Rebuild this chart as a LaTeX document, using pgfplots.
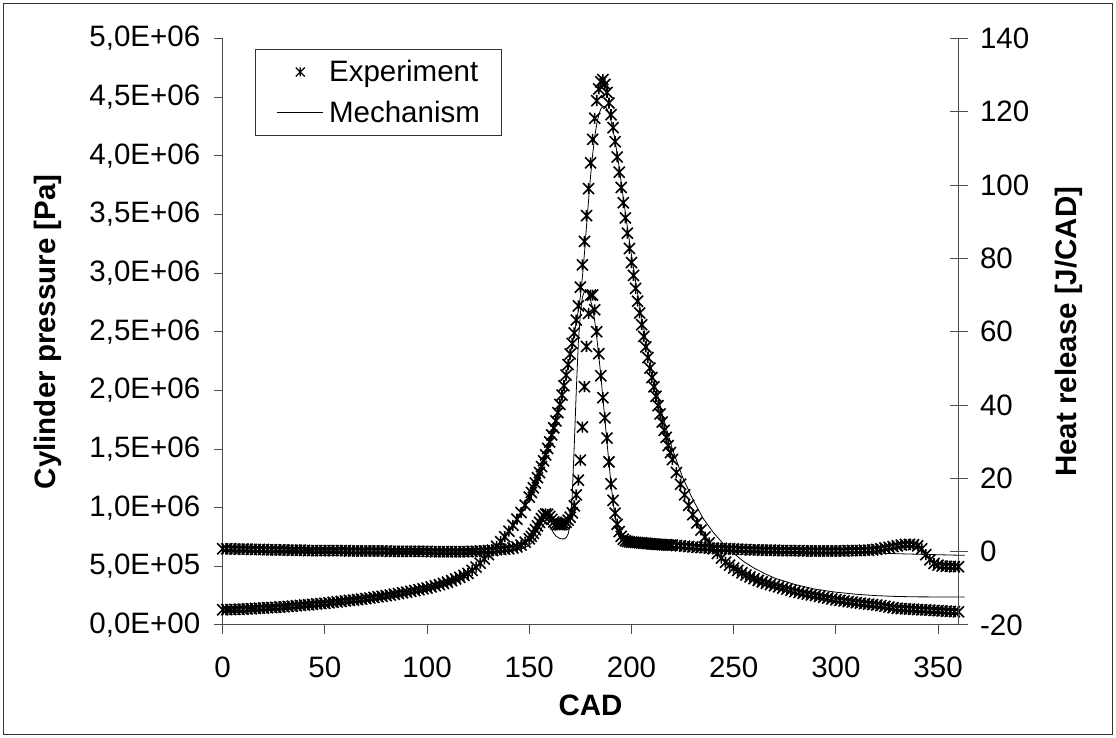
\documentclass[border=0pt]{standalone}
\usepackage{fontspec}
\setmainfont{Liberation Sans}
\usepackage{pgfplots}
\pgfplotsset{compat=1.18}
\usepackage{pgfplotstable}

\pgfdeclareplotmark{xstar}{%
  \pgfpathmoveto{\pgfqpoint{-\pgfplotmarksize}{-\pgfplotmarksize}}%
  \pgfpathlineto{\pgfqpoint{\pgfplotmarksize}{\pgfplotmarksize}}%
  \pgfpathmoveto{\pgfqpoint{-\pgfplotmarksize}{\pgfplotmarksize}}%
  \pgfpathlineto{\pgfqpoint{\pgfplotmarksize}{-\pgfplotmarksize}}%
  \pgfpathmoveto{\pgfqpoint{0pt}{-\pgfplotmarksize}}%
  \pgfpathlineto{\pgfqpoint{0pt}{\pgfplotmarksize}}%
  \pgfusepathqstroke}

\pgfplotsset{
  starleg/.style={legend image code/.code={\draw[##1, mark size=4.5bp, line width=1.2bp] plot coordinates {(25bp,0bp)};\path (0bp,0bp) (50bp,0bp);}},
  lineleg/.style={legend image code/.code={\draw[##1] (2bp,0bp) -- (48bp,0bp);\path (0bp,0bp) (50bp,0bp);}},
  expmarks/.style={only marks, mark=xstar, mark size=5.5bp, black, line width=1.6bp},
}

\newcommand\tf{\fontsize{29.5bp}{34bp}\selectfont}
\newcommand\lf{\bfseries\fontsize{29.5bp}{34bp}\selectfont}

% experiment: crank angle, cylinder pressure [Pa], heat release [J/CAD]
\pgfplotstableread{
cad p hr
0 0.130e6 0.8
2 0.131e6 0.8
4 0.132e6 0.8
6 0.133e6 0.7
8 0.134e6 0.7
10 0.135e6 0.7
12 0.137e6 0.7
14 0.139e6 0.6
16 0.141e6 0.6
18 0.143e6 0.6
20 0.145e6 0.6
22 0.147e6 0.5
24 0.149e6 0.5
26 0.151e6 0.5
28 0.153e6 0.5
30 0.155e6 0.5
32 0.158e6 0.4
34 0.161e6 0.4
36 0.164e6 0.4
38 0.167e6 0.4
40 0.170e6 0.4
42 0.173e6 0.3
44 0.176e6 0.3
46 0.179e6 0.3
48 0.182e6 0.3
50 0.185e6 0.3
52 0.189e6 0.3
54 0.193e6 0.3
56 0.197e6 0.3
58 0.201e6 0.3
60 0.205e6 0.3
62 0.209e6 0.2
64 0.213e6 0.2
66 0.217e6 0.2
68 0.221e6 0.2
70 0.225e6 0.2
72 0.230e6 0.2
74 0.235e6 0.2
76 0.240e6 0.2
78 0.245e6 0.2
80 0.250e6 0.2
82 0.256e6 0.1
84 0.262e6 0.1
86 0.268e6 0.1
88 0.274e6 0.1
90 0.280e6 0.1
92 0.287e6 0.1
94 0.294e6 0.1
96 0.301e6 0.1
98 0.308e6 0.1
100 0.315e6 0.1
102 0.324e6 0.0
104 0.334e6 0.0
106 0.344e6 0.0
108 0.354e6 0.0
110 0.365e6 0.0
112 0.378e6 0.0
114 0.392e6 0.0
116 0.406e6 0.0
118 0.422e6 0.0
120 0.440e6 0.0
122 0.466e6 0.1
124 0.494e6 0.1
126 0.527e6 0.2
128 0.563e6 0.2
130 0.600e6 0.3
132 0.635e6 0.4
134 0.671e6 0.5
136 0.710e6 0.6
138 0.753e6 0.7
140 0.800e6 0.8
142 0.850e6 1.0
144 0.902e6 1.3
146 0.958e6 1.8
148 1.022e6 2.6
150 1.090e6 3.5
151 1.130e6 4.2
152 1.170e6 5.0
153 1.210e6 6.0
154 1.255e6 7.0
155 1.300e6 8.0
156 1.350e6 9.0
157 1.400e6 9.8
158 1.450e6 10.3
159 1.505e6 10.2
160 1.560e6 9.6
161 1.620e6 8.8
162 1.680e6 8.1
163 1.740e6 7.6
164 1.810e6 7.4
165 1.880e6 7.3
166 1.960e6 7.4
167 2.040e6 7.6
168 2.130e6 8.0
169 2.220e6 8.6
170 2.310e6 9.4
171 2.400e6 10.6
172 2.490e6 12.5
173 2.600e6 15.5
174 2.720e6 19.5
175 2.880e6 25
176 3.070e6 34
177 3.270e6 45
178 3.490e6 56
179 3.720e6 65
180 3.940e6 70
181 4.140e6 70
182 4.320e6 66
183 4.470e6 60
184 4.570e6 54
185 4.630e6 48
186 4.650e6 42
187 4.610e6 36.5
188 4.540e6 31
189 4.450e6 24.5
190 4.350e6 18.5
191 4.240e6 14
192 4.120e6 10.5
193 3.990e6 7.5
194 3.860e6 5.5
195 3.730e6 4.2
196 3.600e6 3.4
197 3.470e6 3.0
198 3.340e6 2.8
199 3.210e6 2.7
200 3.090e6 2.6
201 2.980e6 2.6
202 2.870e6 2.5
203 2.760e6 2.5
204 2.660e6 2.4
205 2.560e6 2.4
206 2.460e6 2.3
207 2.370e6 2.3
208 2.280e6 2.2
209 2.190e6 2.2
210 2.110e6 2.1
211 2.030e6 2.1
212 1.950e6 2.0
213 1.870e6 2.0
214 1.800e6 2.0
215 1.730e6 1.9
216 1.660e6 1.9
217 1.600e6 1.9
218 1.530e6 1.8
219 1.470e6 1.8
220 1.410e6 1.8
222 1.300e6 1.7
224 1.200e6 1.6
226 1.110e6 1.5
228 1.020e6 1.4
230 0.940e6 1.3
232 0.870e6 1.2
234 0.810e6 1.1
236 0.750e6 1.1
238 0.700e6 1.0
240 0.650e6 1.0
242 0.610e6 0.9
244 0.570e6 0.9
246 0.535e6 0.8
248 0.510e6 0.8
250 0.485e6 0.7
252 0.465e6 0.7
254 0.445e6 0.6
256 0.425e6 0.6
258 0.410e6 0.5
260 0.395e6 0.5
262 0.380e6 0.5
264 0.368e6 0.4
266 0.356e6 0.4
268 0.345e6 0.4
270 0.335e6 0.4
272 0.325e6 0.3
274 0.315e6 0.3
276 0.305e6 0.3
278 0.295e6 0.3
280 0.285e6 0.3
282 0.278e6 0.3
284 0.270e6 0.2
286 0.263e6 0.2
288 0.256e6 0.2
290 0.250e6 0.2
292 0.243e6 0.2
294 0.236e6 0.2
296 0.229e6 0.2
298 0.222e6 0.2
300 0.215e6 0.2
302 0.210e6 0.2
304 0.205e6 0.2
306 0.200e6 0.3
308 0.195e6 0.3
310 0.190e6 0.3
312 0.186e6 0.3
314 0.182e6 0.4
316 0.178e6 0.4
318 0.174e6 0.5
320 0.170e6 0.6
322 0.165e6 0.8
324 0.159e6 1.0
326 0.153e6 1.2
328 0.147e6 1.4
330 0.142e6 1.6
332 0.140e6 1.8
334 0.138e6 2.0
336 0.136e6 2.0
338 0.134e6 1.9
340 0.132e6 1.6
342 0.130e6 0.8
344 0.128e6 -0.8
346 0.126e6 -2.2
348 0.124e6 -3.2
350 0.122e6 -3.7
352 0.120e6 -3.9
354 0.118e6 -4.0
356 0.116e6 -4.0
358 0.114e6 -4.1
360 0.112e6 -4.1
}\expdata

% mechanism: cylinder pressure [Pa]
\pgfplotstableread{
cad p
0 0.130e6
20 0.145e6
40 0.170e6
60 0.205e6
80 0.250e6
100 0.315e6
110 0.365e6
120 0.440e6
125 0.510e6
130 0.600e6
135 0.690e6
140 0.800e6
145 0.930e6
150 1.090e6
155 1.300e6
160 1.560e6
165 1.880e6
168 2.120e6
170 2.300e6
172 2.480e6
174 2.680e6
175 2.800e6
176 2.970e6
177 3.170e6
178 3.400e6
179 3.620e6
180 3.830e6
181 4.010e6
182 4.160e6
183 4.270e6
184 4.350e6
185 4.400e6
186 4.420e6
187 4.420e6
188 4.400e6
189 4.360e6
190 4.300e6
192 4.130e6
194 3.900e6
196 3.640e6
198 3.390e6
200 3.150e6
202 2.930e6
205 2.620e6
210 2.170e6
215 1.800e6
220 1.500e6
225 1.260e6
230 1.070e6
235 0.910e6
240 0.790e6
245 0.690e6
250 0.610e6
255 0.540e6
260 0.485e6
265 0.440e6
270 0.400e6
280 0.345e6
290 0.305e6
300 0.280e6
310 0.262e6
320 0.250e6
330 0.243e6
340 0.240e6
363 0.238e6
}\mechp

% mechanism: heat release [J/CAD]
\pgfplotstableread{
cad hr
0 0.5
20 0.4
40 0.3
60 0.2
80 0.1
100 0.0
120 0.0
140 0.2
145 0.6
148 1.2
150 1.8
152 2.8
154 4.3
155 5.3
156 6.4
157 7.4
158 8.0
159 7.8
160 7.0
161 6.0
162 5.0
163 4.3
164 3.9
165 3.6
166 3.5
167 3.5
168 3.8
169 4.8
170 7.5
171 15
172 29
173 44
174 57
175 65
176 69.5
177 71
178 71
179 70
180 68.5
181 66.5
182 63
183 58.5
184 53.5
185 48
186 42
187 36
188 30
189 24
190 18.5
191 13.5
192 9.5
193 6.5
194 4.5
195 3.3
196 2.7
198 2.3
200 2.1
210 1.7
220 1.3
230 0.9
240 0.6
250 0.4
260 0.2
280 0.0
300 -0.2
320 -0.4
340 -0.7
363 -1.0
}\mechhr

\begin{document}
\begin{tikzpicture}
\path (0,0) rectangle (1116bp,738bp);
\draw[line width=1.5bp, black!80] (3.5bp,3.5bp) rectangle (1112.5bp,734.5bp);

\begin{axis}[
  at={(222.7bp,113bp)}, anchor=south west, scale only axis,
  width=735.8bp, height=586.5bp,
  xmin=0, xmax=360, ymin=0, ymax=5e6,
  clip=false,
  axis x line*=bottom, axis y line*=left,
  axis line style={black!70, line width=1bp},
  tick style={black!70, line width=1bp},
  tick align=outside, major tick length=9bp,
  xtick={0,50,100,150,200,250,300,350},
  ytick={0,500000,1000000,1500000,2000000,2500000,3000000,3500000,4000000,4500000,5000000},
  yticklabels={{0,0E+00},{5,0E+05},{1,0E+06},{1,5E+06},{2,0E+06},{2,5E+06},{3,0E+06},{3,5E+06},{4,0E+06},{4,5E+06},{5,0E+06}},
  scaled y ticks=false,
  /pgf/number format/assume math mode=true,
  every tick label/.append style={font=\tf},
  xticklabel style={yshift=-19bp},
  yticklabel style={xshift=-10bp},
  xlabel={CAD}, ylabel={Cylinder pressure [Pa]},
  every axis x label/.style={at={(axis description cs:0.5,0)}, anchor=center, yshift=-80bp, font=\lf},
  every axis y label/.style={at={(axis description cs:-0.2372,0.5)}, rotate=90, anchor=center, font=\lf},
  legend style={at={(axis description cs:0.0439,0.982)}, anchor=north west,
    draw=black!80, line width=1bp, font=\tf, inner xsep=19bp, inner ysep=8bp,
    nodes={inner sep=3bp}, row sep=12bp, cells={anchor=west}},
]
\addplot[expmarks, starleg]
  table[x=cad, y=p] {\expdata};
\addlegendentry{Experiment}
\addplot[black, line width=0.8bp, mark=none, lineleg]
  table[x=cad, y=p] {\mechp};
\addlegendentry{Mechanism}
\end{axis}

\begin{axis}[
  at={(222.7bp,113bp)}, anchor=south west, scale only axis,
  width=735.8bp, height=586.5bp,
  xmin=0, xmax=360, ymin=-20, ymax=140,
  clip=false,
  axis x line=none, axis y line*=right,
  axis line style={black!70, line width=1bp},
  tick style={black!70, line width=1bp},
  tick align=center, major tick length=18bp,
  ytick={-20,0,20,40,60,80,100,120,140},
  /pgf/number format/assume math mode=true,
  every tick label/.append style={font=\tf},
  yticklabel style={xshift=9bp},
  ylabel={Heat release [J/CAD]},
  every axis y label/.style={at={(axis description cs:1.1495,0.5)}, rotate=90, anchor=center, font=\lf},
]
\addplot[expmarks]
  table[x=cad, y=hr] {\expdata};
\addplot[black, line width=0.8bp, mark=none]
  table[x=cad, y=hr] {\mechhr};
\end{axis}
\end{tikzpicture}
\end{document}
